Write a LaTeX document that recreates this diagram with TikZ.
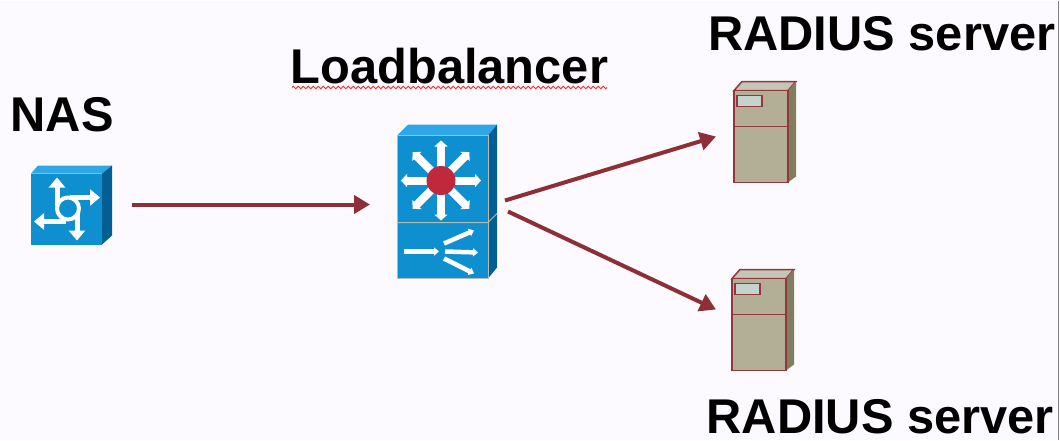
\documentclass[tikz,border=0pt]{standalone}
\usepackage{fontspec}
\setmainfont{Liberation Sans}
\usetikzlibrary{arrows.meta,decorations.pathmorphing}
\definecolor{pagebg}{HTML}{FCFAFF}
\definecolor{linkred}{HTML}{8E2F38}
\definecolor{swfront}{HTML}{0E8FCF}
\definecolor{swtop}{HTML}{2FA6E6}
\definecolor{swside}{HTML}{035F93}
\definecolor{swhub}{HTML}{C0283C}
\definecolor{swedge}{HTML}{B5BDB0}
\definecolor{srvfront}{HTML}{B3AE96}
\definecolor{srvtop}{HTML}{C5C7B6}
\definecolor{srvside}{HTML}{7F7F60}
\definecolor{srvline}{HTML}{93363E}
\definecolor{srvpanel}{HTML}{C3D3CE}
\tikzset{
  title/.style={font=\fontsize{48.8}{48.8}\selectfont\bfseries,anchor=base west,inner sep=0pt},
  devbox/.style={inner sep=0pt,outer sep=0pt,minimum width=#1},
  link/.style={linkred,line width=4pt,-{Triangle[length=16pt,width=18pt]}},
  lbarrow/.style={white,line width=8pt,-{Triangle[length=6pt,width=13pt]}},
  nasarrow/.style={white,line width=5pt,-{Triangle[length=10pt,width=16pt]}},
  fanarrow/.style={white,line width=4.5pt,-{Triangle[length=5pt,width=8pt]}},
  radiusbox/.pic={
    \draw [srvline,line width=1.5pt,fill=srvtop] (0,0) -- (8,-9) -- (62,-9) -- (54,0) -- cycle;
    \fill [srvside] (54,0) -- (62,-9) -- (62,86) -- (54,92) -- cycle;
    \draw [srvline,line width=1.5pt,fill=srvfront] (0,0) rectangle (54,92);
    \draw [srvline,line width=1.5pt] (0,36) -- (54,36);
    \draw [srvline,line width=1.5pt,fill=srvpanel] (3,5) rectangle (28,16);
  }
}
\begin{document}
\begin{tikzpicture}[x=1pt,y=-1pt]
\fill [pagebg] (0,0) rectangle (1060,439);
\draw [gray,line width=1pt] (1058.5,0) -- (1058.5,439);

\node (nastitle) [title] at (10.5,131) {NAS};
\node (lbtitle) [title] at (290.5,83) {Loadbalancer};
\node (rad1title) [title] at (708,50) {RADIUS server};
\node (rad2title) [title] at (706.5,433) {RADIUS server};
\draw [red!85,line width=1pt,decorate,decoration={zigzag,amplitude=1.2pt,segment length=5pt}]
  (292,87) -- (607,87);

% NAS
\fill [swtop] (31,173) -- (38,165) -- (112,165) -- (102,173) -- cycle;
\fill [swside] (102,173) -- (112,165) -- (112,235) -- (102,244) -- cycle;
\fill [swfront] (31,173) rectangle (102,244);
\draw [nasarrow] (57,205) -- (57,177);
\draw [nasarrow] (70,197) -- (100,197);
\draw [nasarrow] (66,221) -- (34,221);
\draw [nasarrow] (77,212) -- (77,240);
\draw [white,line width=4pt,fill=swfront] (68,208) circle (11);
\node (nas) [devbox=81pt,minimum height=79pt] at (71.5,204.5) {};

% loadbalancer
\fill [swtop] (397,135) -- (408,124) -- (497,124) -- (488,135) -- cycle;
\fill [swside] (488,135) -- (497,124) -- (497,267) -- (488,278) -- cycle;
\draw [swedge,line width=0.8pt,fill=swfront] (397,135) rectangle (488,278);
\draw [swedge,line width=1pt] (397,222) -- (488,222) -- (497,213);
\foreach \a in {0,45,...,315}
  \draw [lbarrow] (441,180) -- ++(\a:40);
\fill [swhub] (441,180) circle (14.5);
\draw [fanarrow] (404,251) -- (439,251);
\draw [fanarrow] (444,243) -- (474,230);
\draw [fanarrow] (445,251) -- (478,252);
\draw [fanarrow] (444,258) -- (474,273);
\node (lb) [devbox=100pt,minimum height=155pt] at (447,201.5) {};

% radius servers
\pic at (734,90) {radiusbox};
\node (rad1) [devbox=62pt,minimum height=101pt] at (765,131.5) {};
\pic at (732,278) {radiusbox};
\node (rad2) [devbox=62pt,minimum height=102pt] at (763,320) {};

\draw [link] ([xshift=20pt,yshift=0.5pt]nas.east) -- ([xshift=-27pt,yshift=-2.5pt]lb.west);
\draw [link] ([xshift=8pt,yshift=1.5pt]lb.east) -- ([xshift=-18pt,yshift=-4.5pt]rad1.west);
\draw [link] ([xshift=11pt,yshift=-9.5pt]lb.east) -- ([xshift=-16pt,yshift=11pt]rad2.west);
\end{tikzpicture}
\end{document}
